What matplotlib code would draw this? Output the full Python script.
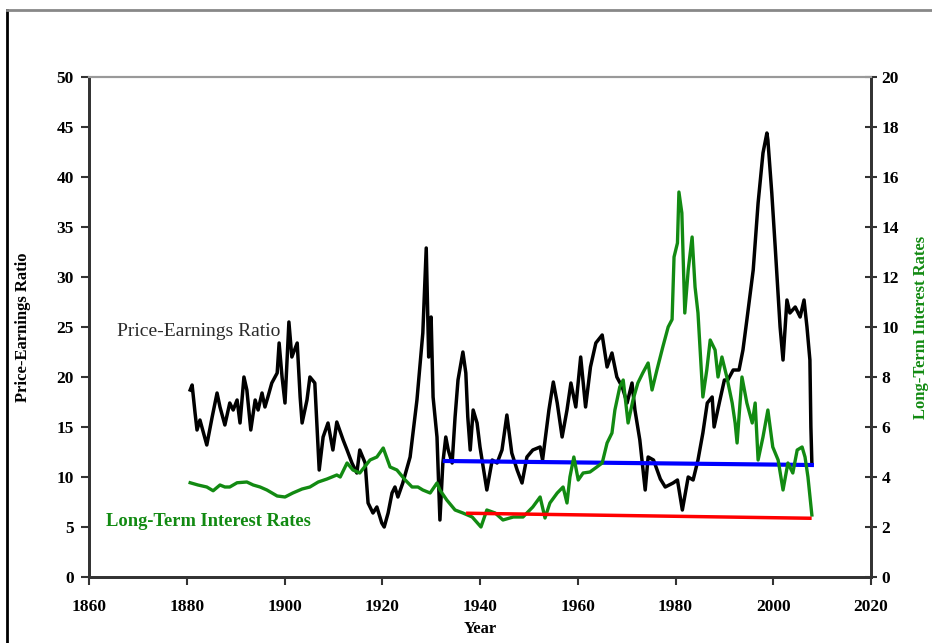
import matplotlib
matplotlib.use("Agg")
import matplotlib.pyplot as plt
from matplotlib.lines import Line2D

# ---------------- data ----------------
pe_years = [1880.7, 1881.1, 1881.7, 1882.1, 1882.7, 1884.1, 1885.2, 1886.2, 1886.8,
            1887.8, 1888.8, 1889.5, 1890.3, 1890.9, 1891.7, 1892.3, 1893.1, 1894.0,
            1894.6, 1895.4, 1896.0, 1896.6, 1897.4, 1898.5, 1898.9, 1899.5, 1900.1,
            1900.9, 1901.5, 1902.6, 1903.2, 1903.6, 1904.6, 1905.2, 1906.2, 1907.1,
            1907.9, 1908.9, 1909.9, 1910.7, 1912.0, 1912.8, 1913.8, 1914.8, 1915.4,
            1916.5, 1917.1, 1918.1, 1918.9, 1919.9, 1920.4, 1921.2, 1922.0, 1922.6,
            1923.2, 1924.2, 1925.7, 1927.1, 1928.3, 1929.0, 1929.5, 1930.0, 1930.4,
            1931.2, 1931.8, 1932.4, 1933.0, 1933.5, 1934.3, 1934.9, 1935.5, 1936.5,
            1937.1, 1937.5, 1938.0, 1938.6, 1939.4, 1940.0, 1941.4, 1942.5, 1943.5,
            1944.5, 1945.5, 1946.5, 1947.6, 1948.6, 1949.6, 1950.8, 1952.3, 1952.8,
            1954.1, 1955.0, 1955.8, 1956.8, 1957.8, 1958.6, 1959.6, 1960.6, 1961.6,
            1962.6, 1963.7, 1965.0, 1966.0, 1967.0, 1968.0, 1969.1, 1970.1, 1971.1,
            1971.7, 1972.7, 1973.8, 1974.4, 1975.5, 1976.9, 1977.9, 1979.5, 1980.4,
            1981.4, 1982.6, 1983.6, 1984.6, 1985.6, 1986.5, 1987.5, 1987.9, 1989.0,
            1990.0, 1990.7, 1991.8, 1993.0, 1993.8, 1994.6, 1995.9, 1996.9, 1997.9,
            1998.7, 1998.9, 1999.7, 2000.4, 2001.4, 2002.0, 2002.8, 2003.4, 2004.5,
            2005.5, 2006.3, 2006.9, 2007.5, 2007.7, 2007.9]
pe_values = [18.7, 19.2, 16.4, 14.7, 15.7, 13.2, 16.0, 18.4, 17.0,
             15.2, 17.4, 16.7, 17.7, 15.4, 20.0, 18.7, 14.7, 17.7,
             16.7, 18.4, 17.0, 18.0, 19.4, 20.4, 23.4, 20.0, 17.4,
             25.5, 22.0, 23.4, 18.0, 15.4, 17.7, 20.0, 19.4, 10.7,
             14.0, 15.4, 12.7, 15.5, 13.7, 12.7, 11.4, 10.4, 12.7,
             11.4, 7.4, 6.4, 7.0, 5.4, 5.0, 6.4, 8.4, 9.0,
             8.0, 9.4, 12.0, 17.7, 24.4, 32.9, 22.0, 26.0, 18.0,
             14.0, 5.7, 11.4, 14.0, 12.7, 11.4, 16.0, 19.7, 22.5,
             20.4, 16.0, 12.7, 16.7, 15.4, 13.0, 8.7, 11.7, 11.4,
             12.7, 16.2, 12.4, 10.7, 9.4, 12.0, 12.7, 13.0, 11.7,
             16.7, 19.5, 17.4, 14.0, 16.7, 19.4, 17.0, 22.0, 17.0,
             21.0, 23.4, 24.2, 21.0, 22.4, 20.0, 19.0, 17.4, 19.4,
             16.7, 13.7, 8.7, 12.0, 11.7, 9.8, 9.0, 9.4, 9.7,
             6.7, 10.0, 9.7, 11.7, 14.4, 17.4, 18.0, 15.0, 17.5,
             19.7, 19.7, 20.7, 20.7, 22.7, 25.7, 30.7, 37.4, 42.4,
             44.4, 43.7, 38.4, 33.0, 25.0, 21.7, 27.7, 26.4, 27.0,
             26.0, 27.7, 25.0, 21.7, 15.0, 11.4]

rate_years = [1880.7, 1882.3, 1884.1, 1885.4, 1886.8, 1887.8, 1888.8, 1890.3, 1892.3,
              1893.6, 1895.0, 1896.4, 1898.5, 1900.1, 1901.7, 1903.6, 1905.2, 1906.9,
              1908.7, 1910.7, 1911.4, 1912.8, 1914.0, 1915.4, 1917.5, 1918.9, 1920.2,
              1921.6, 1923.0, 1924.7, 1926.1, 1927.3, 1928.3, 1929.8, 1931.2, 1931.8,
              1933.2, 1934.9, 1936.5, 1938.4, 1940.2, 1941.4, 1943.1, 1944.7, 1946.8,
              1948.8, 1950.8, 1952.3, 1953.3, 1954.3, 1955.8, 1957.0, 1957.8, 1958.4,
              1959.2, 1960.1, 1961.1, 1962.5, 1963.9, 1965.0, 1966.0, 1967.0, 1967.6,
              1968.6, 1969.3, 1970.3, 1971.3, 1972.3, 1973.3, 1974.4, 1975.2, 1976.2,
              1977.4, 1978.5, 1979.3, 1979.7, 1980.4, 1980.7, 1981.3, 1981.9, 1982.6,
              1983.4, 1984.0, 1984.6, 1985.6, 1986.4, 1987.1, 1988.1, 1988.7, 1989.5,
              1990.5, 1991.6, 1992.2, 1992.6, 1993.6, 1994.6, 1995.7, 1996.3, 1996.9,
              1997.9, 1998.9, 1999.9, 2001.0, 2002.0, 2003.0, 2004.0, 2004.9, 2005.9,
              2006.5, 2007.1, 2007.9]
rate_values = [3.77, 3.68, 3.60, 3.45, 3.68, 3.60, 3.60, 3.77, 3.80,
               3.68, 3.60, 3.48, 3.24, 3.20, 3.36, 3.52, 3.60, 3.80,
               3.92, 4.08, 4.00, 4.56, 4.28, 4.16, 4.68, 4.80, 5.16,
               4.40, 4.28, 3.88, 3.60, 3.60, 3.48, 3.36, 3.76, 3.48,
               3.08, 2.68, 2.56, 2.40, 2.00, 2.68, 2.56, 2.28, 2.40,
               2.40, 2.80, 3.20, 2.36, 2.96, 3.36, 3.60, 2.96, 4.00,
               4.80, 3.88, 4.16, 4.20, 4.40, 4.56, 5.36, 5.76, 6.68,
               7.60, 7.88, 6.16, 7.08, 7.76, 8.16, 8.56, 7.48, 8.28,
               9.20, 10.0, 10.3, 12.8, 13.36, 15.4, 14.56, 10.56, 12.28,
               13.6, 11.6, 10.56, 7.2, 8.28, 9.48, 9.08, 8.0, 8.8,
               8.0, 6.96, 6.16, 5.36, 8.0, 6.96, 6.16, 6.96, 4.68,
               5.6, 6.68, 5.2, 4.68, 3.48, 4.56, 4.16, 5.08, 5.2,
               4.8, 4.0, 2.48]

pe_trend_years = [1932.8, 2007.9]
pe_trend_values = [11.6, 11.2]
rate_trend_years = [1937.5, 2007.5]
rate_trend_values = [2.55, 2.35]

x_ticks = [1860, 1880, 1900, 1920, 1940, 1960, 1980, 2000, 2020]
pe_ticks = [0, 5, 10, 15, 20, 25, 30, 35, 40, 45, 50]
rate_ticks = [0, 2, 4, 6, 8, 10, 12, 14, 16, 18, 20]

# ---------------- styling ----------------
SERIF = ["Liberation Serif", "DejaVu Serif"]
GREEN = "#128a12"
plt.rcParams["font.family"] = SERIF

fig = plt.figure(figsize=(9.32, 6.43), dpi=100)
ax = fig.add_axes([89 / 932, 66 / 643, 782 / 932, 500 / 643])
ax2 = ax.twinx()

ax.plot(pe_years, pe_values, color="black", lw=2.5, solid_joinstyle="round")
ax.plot(pe_trend_years, pe_trend_values, color="#0000ff", lw=3.0)
ax2.plot(rate_years, rate_values, color=GREEN, lw=2.4, solid_joinstyle="round")
ax2.plot(rate_trend_years, rate_trend_values, color="#ff0000", lw=2.5)

ax.set_xlim(1860, 2020)
ax.set_ylim(0, 50)
ax2.set_ylim(0, 20)
ax.set_xticks(x_ticks)
ax.set_yticks(pe_ticks)
ax2.set_yticks(rate_ticks)

for a in (ax, ax2):
    for s in a.spines.values():
        s.set_linewidth(2.0)
        s.set_color("#333333")
    a.spines["top"].set_color("#999999")
    a.spines["top"].set_linewidth(1.5)

ax.tick_params(axis="y", direction="out", length=6, width=1.5, color="#333333",
               labelsize=12.5, pad=5)
ax.tick_params(axis="x", direction="out", length=6, width=1.5, color="#333333",
               labelsize=12.5, pad=10)
ax2.tick_params(axis="y", direction="inout", length=9, width=1.5, color="#333333",
                labelsize=12.5, pad=3)
for lab in ax.get_xticklabels() + ax.get_yticklabels() + ax2.get_yticklabels():
    lab.set_fontweight("bold")

ax.set_xlabel("Year", fontsize=12, fontweight="bold", labelpad=4)
ax.set_ylabel("Price-Earnings Ratio", fontsize=12, fontweight="bold", labelpad=18)
ax2.set_ylabel("Long-Term Interest Rates", fontsize=12, fontweight="bold",
               color=GREEN, labelpad=10)

ax.text(1865.7, 24.6, "Price-Earnings Ratio", fontsize=14, color="#2a2a2a",
        ha="left", va="center")
ax2.text(1863.5, 2.2, "Long-Term Interest Rates", fontsize=13.3, color=GREEN,
         fontweight="bold", ha="left", va="center")

# outer frame of the picture
fy = 1 - 10 / 643
fx = 7 / 932
fig.add_artist(Line2D([fx, fx], [0, fy], transform=fig.transFigure,
                      color="black", lw=2))
fig.add_artist(Line2D([fx, 1], [fy, fy], transform=fig.transFigure,
                      color="#888888", lw=2))

fig.savefig("out.png", dpi=100)
